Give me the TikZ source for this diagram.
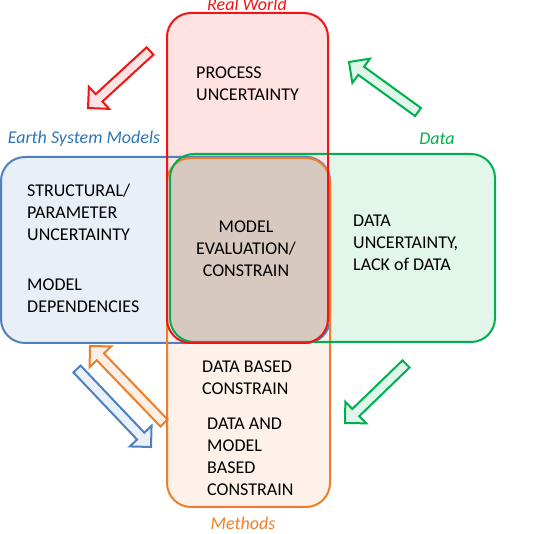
\documentclass[tikz,border=0pt]{standalone}
\usepackage{fontspec}
\setmainfont{Carlito}
\usepackage{tikz}
\usetikzlibrary{calc}

\definecolor{rwred}{RGB}{240,20,20}
\definecolor{rwfill}{RGB}{255,226,226}
\definecolor{esmblue}{RGB}{79,129,189}
\definecolor{esmfill}{RGB}{233,239,247}
\definecolor{esmtext}{RGB}{46,117,182}
\definecolor{datgreen}{RGB}{0,176,80}
\definecolor{datfill}{RGB}{227,246,234}
\definecolor{metorange}{RGB}{240,125,40}
\definecolor{metfill}{RGB}{253,241,233}
\definecolor{overlap}{RGB}{215,201,191}

% block arrow from tail #2 to tip #3
\newcommand{\blockarrow}[3]{%
  \coordinate (#2h) at ($(#3)!15pt!(#2)$);
  \draw[#1] ($(#2)!5pt!90:(#3)$) -- ($(#2h)!5pt!90:(#3)$) -- ($(#2h)!15pt!90:(#3)$) -- (#3)
    -- ($(#2h)!15pt!-90:(#3)$) -- ($(#2h)!5pt!-90:(#3)$) -- ($(#2)!5pt!-90:(#3)$) -- cycle;}

\begin{document}
\begin{tikzpicture}[x=1pt, y=-1pt,
    box/.style={line width=2pt, rounded corners=24pt},
    txt/.style={inner sep=0pt, font=\fontsize{18}{22}\selectfont, text=black},
    lbl/.style={inner sep=0pt, font=\fontsize{18}{22}\selectfont\itshape},
    barrow/.style={line width=2pt, draw=#1, fill=#1!12},
]
  \useasboundingbox (0,0) rectangle (542,534);

  % fills
  \fill[esmfill, rounded corners=24pt] (1,157) rectangle (330,343);
  \fill[datfill, rounded corners=24pt] (170,154) rectangle (495,342);
  \fill[metfill, rounded corners=24pt] (167,158) rectangle (330,507);
  \fill[rwfill, rounded corners=24pt] (167,13) rectangle (328,343);
  \fill[overlap, rounded corners=24pt] (170,155) rectangle (328,343);

  % outlines
  \draw[box, esmblue] (1,157) rectangle (330,343);
  \draw[box, metorange] (167,158) rectangle (330,507);
  \draw[box, datgreen] (170,154) rectangle (495,342);
  \draw[box, rwred] (167,13) rectangle (328,343);

  % group labels
  \node[lbl, text=rwred] (realworld) at (247,4) {Real World};
  \node[lbl, text=esmtext] (esm) at (84,139) {Earth System Models};
  \node[lbl, text=datgreen] (data) at (437,139) {Data};
  \node[lbl, text=metorange] (methods) at (243,523) {Methods};

  % texts
  \node[txt, anchor=west, align=left] (process) at (196,84) {PROCESS\\UNCERTAINTY};
  \node[txt, anchor=west, align=left] (struct) at (27,212) {STRUCTURAL/\\PARAMETER\\UNCERTAINTY};
  \node[txt, anchor=west, align=left] (depend) at (27,296) {MODEL\\DEPENDENCIES};
  \node[txt, align=center] (evalc) at (246,249) {MODEL\\EVALUATION/\\CONSTRAIN};
  \node[txt, anchor=west, align=left] (datunc) at (353,243) {DATA\\UNCERTAINTY,\\LACK of DATA};
  \node[txt, anchor=west, align=left] (dbased) at (202,378) {DATA BASED\\CONSTRAIN};
  \node[txt, anchor=west, align=left] (dmbased) at (207,457) {DATA AND\\MODEL\\BASED\\CONSTRAIN};

  % block arrows
  \coordinate (rt) at (150,51);  \coordinate (rp) at (88,108);
  \coordinate (gt) at (418,112); \coordinate (gp) at (349,62);
  \coordinate (ot) at (164,423); \coordinate (op) at (90,346);
  \coordinate (bt) at (77,369);  \coordinate (bp) at (151,447);
  \coordinate (ht) at (406,364); \coordinate (hp) at (345,423);
  \blockarrow{barrow=rwred}{rt}{rp}
  \blockarrow{barrow=datgreen}{gt}{gp}
  \blockarrow{barrow=metorange}{ot}{op}
  \blockarrow{barrow=esmblue}{bt}{bp}
  \blockarrow{barrow=datgreen}{ht}{hp}
\end{tikzpicture}
\end{document}
